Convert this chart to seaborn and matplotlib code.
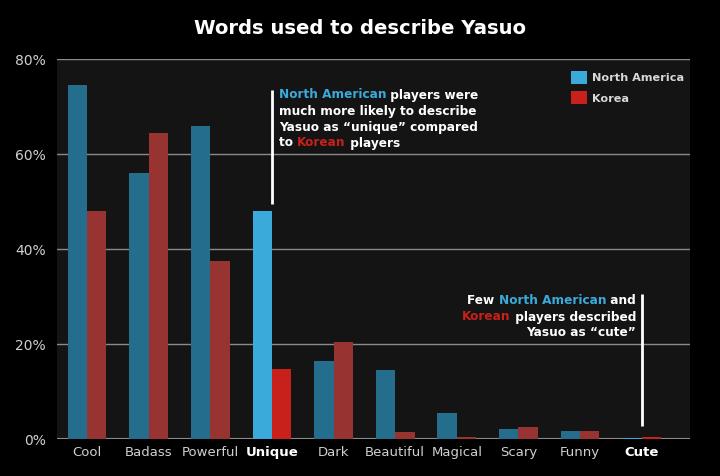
import matplotlib
matplotlib.use("Agg")
import matplotlib.pyplot as plt
import seaborn as sns
import pandas as pd
from matplotlib.patches import Patch

categories = ["Cool", "Badass", "Powerful", "Unique", "Dark", "Beautiful",
              "Magical", "Scary", "Funny", "Cute"]
north_america = [74.5, 56.0, 65.9, 48.0, 16.4, 14.5, 5.5, 2.1, 1.7, 0.3]
korea = [48.0, 64.4, 37.5, 14.7, 20.4, 1.5, 0.5, 2.6, 1.6, 0.5]
series = ["North America", "Korea"]
y_ticks = [0, 20, 40, 60, 80]
bold_ticks = ["Unique", "Cute"]

NA_DIM, KO_DIM = "#256d8c", "#973431"
NA_HI, KO_HI = "#3aaadb", "#c8201a"
FONT = ["DejaVu Sans"]

df = pd.DataFrame({
    "word": categories * 2,
    "pct": north_america + korea,
    "region": [series[0]] * len(categories) + [series[1]] * len(categories),
})

sns.set_theme(style="dark")
plt.rcParams["font.family"] = FONT

fig = plt.figure(figsize=(7.2, 4.76), dpi=100, facecolor="black")
ax = fig.add_axes([0.079, 0.0777, 0.879, 0.7983])
ax.set_facecolor("#141414")

sns.barplot(data=df, x="word", y="pct", hue="region", order=categories,
            hue_order=series, palette=[NA_DIM, KO_DIM], width=0.63,
            linewidth=0, saturation=1, ax=ax, legend=False, zorder=2)

for ci, hi in enumerate([NA_HI, KO_HI]):
    bars = ax.containers[ci]
    for i, cat in enumerate(categories):
        if cat in ("Unique", "Cute"):
            bars[i].set_facecolor(hi)

ax.set_ylim(0, 80)
ax.set_xlim(-0.49, len(categories) - 0.22)
ax.set_yticks(y_ticks)
ax.set_yticklabels([f"{t}%" for t in y_ticks], color="#d0d0d0",
                   fontsize=10, fontweight="normal")
ax.yaxis.grid(True, color="#8a8a8a", linewidth=1, zorder=0)
ax.xaxis.grid(False)
ax.set_axisbelow(True)
ax.set_xlabel("")
ax.set_ylabel("")
ax.tick_params(axis="y", length=0, pad=8)
ax.tick_params(axis="x", length=0, pad=5)
for s in ax.spines.values():
    s.set_visible(False)
ax.axhline(0, color="#8a8a8a", linewidth=1.5, zorder=1)

for lbl in ax.get_xticklabels():
    txt = lbl.get_text()
    lbl.set_fontsize(9.5)
    if txt in bold_ticks:
        lbl.set_color("white")
        lbl.set_fontweight("bold")
    else:
        lbl.set_color("#cfcfcf")
        lbl.set_fontweight("normal")

handles = [Patch(facecolor=NA_HI, edgecolor="none", label=series[0]),
           Patch(facecolor=KO_HI, edgecolor="none", label=series[1])]
leg = ax.legend(handles=handles, loc="upper left",
                bbox_to_anchor=(0.797, 0.995), frameon=False,
                handlelength=1.4, handleheight=1.4, handletextpad=0.45,
                labelspacing=0.65,
                prop={"family": FONT, "weight": "bold", "size": 8.1})
for t in leg.get_texts():
    t.set_color("#d8d8d8")

fig.text(0.5, 0.94, "Words used to describe Yasuo", ha="center", va="center",
         color="white", fontsize=14.1, fontweight="bold")

fig.canvas.draw()
renderer = fig.canvas.get_renderer()
SIZE = 8.7


def text_width(s):
    t1 = fig.text(0, 0, "|" + s + "|", fontsize=SIZE, fontweight="bold")
    t2 = fig.text(0, 0, "||", fontsize=SIZE, fontweight="bold")
    w = t1.get_window_extent(renderer).width - t2.get_window_extent(renderer).width
    t1.remove()
    t2.remove()
    return w


def line_left(x_px, y_px, parts):
    x = x_px
    for s, c in parts:
        fig.text(x / 720, 1 - y_px / 476, s, color=c, fontsize=SIZE,
                 fontweight="bold", ha="left", va="center")
        x += text_width(s)


def line_right(x_px, y_px, parts):
    total = sum(text_width(s) for s, _ in parts)
    line_left(x_px - total, y_px, parts)


W = "white"
ann1 = [
    [("North American", NA_HI), (" players were", W)],
    [("much more likely to describe", W)],
    [("Yasuo as \u201cunique\u201d compared", W)],
    [("to ", W), ("Korean", KO_HI), (" players", W)],
]
for i, parts in enumerate(ann1):
    line_left(279, 95 + i * 16, parts)

ann2 = [
    [("Few ", W), ("North American", NA_HI), (" and", W)],
    [("Korean", KO_HI), (" players described", W)],
    [("Yasuo as \u201ccute\u201d", W)],
]
for i, parts in enumerate(ann2):
    line_right(636, 301 + i * 16, parts)

ui = categories.index("Unique")
ax.plot([ui, ui], [north_america[ui] + 1.5, 73.5], color="white", lw=2,
        zorder=5, solid_capstyle="butt")
ci = categories.index("Cute")
ax.plot([ci, ci], [2.7, 30.5], color="white", lw=2, zorder=5,
        solid_capstyle="butt")

fig.savefig("out.png", dpi=100, facecolor="black")
